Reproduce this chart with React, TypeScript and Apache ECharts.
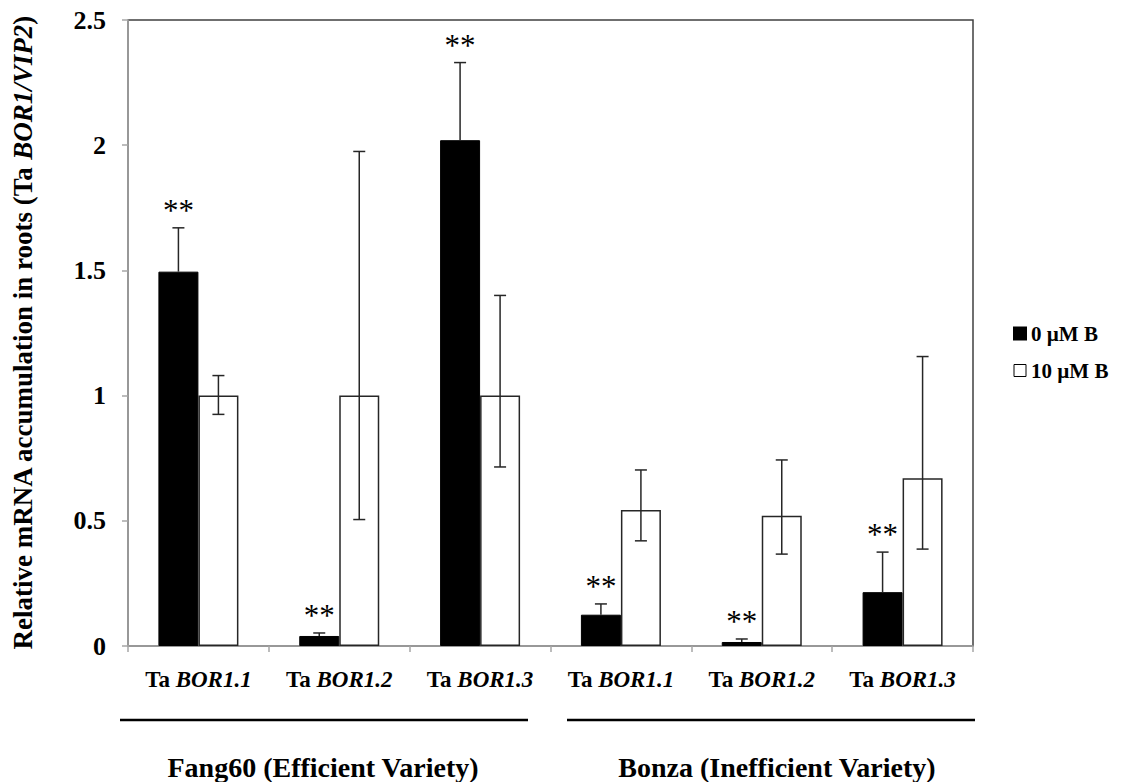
import React, { useEffect, useRef } from 'react';
import * as echarts from 'echarts';

const genes = ['BOR1.1', 'BOR1.2', 'BOR1.3', 'BOR1.1', 'BOR1.2', 'BOR1.3'];
const varieties = ['Fang60 (Efficient Variety)', 'Bonza (Inefficient Variety)'];
const seriesNames = ['0 µM B', '10 µM B'];
const mean0 = [1.495, 0.04, 2.02, 0.125, 0.016, 0.215];
const upper0 = [1.67, 0.052, 2.33, 0.168, 0.028, 0.375];
const mean10 = [1.0, 1.0, 1.0, 0.543, 0.52, 0.67];
const lower10 = [0.925, 0.505, 0.715, 0.42, 0.367, 0.387];
const upper10 = [1.08, 1.975, 1.4, 0.703, 0.743, 1.156];
const marks0 = ['**', '**', '**', '**', '**', '**'];
const yMin = 0;
const yMax = 2.5;
const yInterval = 0.5;

const FONT = '"Liberation Serif", "Times New Roman", serif';
const BAR_W = 40;

export default function App() {
  const ref = useRef<HTMLDivElement>(null);
  useEffect(() => {
    if (!ref.current) return;
    const chart = echarts.init(ref.current, undefined, { renderer: 'svg' });

    const errRender = (offset: number, lowerCap: boolean, withMark: boolean) =>
      (params: any, api: any) => {
        const i = api.value(0);
        const lo = api.value(1);
        const hi = api.value(2);
        const x = api.coord([i, 0])[0] + offset;
        const yLo = api.coord([i, lo])[1];
        const yHi = api.coord([i, hi])[1];
        const st = { stroke: '#262626', lineWidth: 1.5 };
        const children: any[] = [
          { type: 'line', shape: { x1: x, y1: yLo, x2: x, y2: yHi }, style: st },
          { type: 'line', shape: { x1: x - 6, y1: yHi, x2: x + 6, y2: yHi }, style: st },
        ];
        if (lowerCap) {
          children.push({ type: 'line', shape: { x1: x - 6, y1: yLo, x2: x + 6, y2: yLo }, style: st });
        }
        if (withMark) {
          children.push({
            type: 'text',
            style: {
              text: marks0[params.dataIndex],
              x: x,
              y: yHi - 2,
              align: 'center',
              verticalAlign: 'bottom',
              fontFamily: FONT,
              fontSize: 31,
              fill: '#000',
            },
          });
        }
        return { type: 'group', children };
      };

    const option: any = {
      animation: false,
      backgroundColor: '#fff',
      grid: {
        left: 128,
        right: 149,
        top: 20,
        bottom: 136,
        show: true,
        borderColor: '#404040',
        borderWidth: 1.5,
      },
      legend: {
        orient: 'vertical',
        left: 1008,
        top: 318,
        itemWidth: 12,
        itemHeight: 12,
        itemGap: 16,
        icon: 'rect',
        textStyle: { fontFamily: FONT, fontWeight: 'bold', fontSize: 21, color: '#000' },
        data: [
          { name: seriesNames[0], itemStyle: { color: '#000' } },
          { name: seriesNames[1], itemStyle: { color: '#fff', borderColor: '#000', borderWidth: 1 } },
        ],
      },
      xAxis: {
        type: 'category',
        data: genes,
        boundaryGap: true,
        axisLine: { lineStyle: { color: '#a6a6a6', width: 1.5 } },
        axisTick: { show: true, length: 6, lineStyle: { color: '#a6a6a6', width: 1.5 } },
        axisLabel: {
          margin: 22,
          formatter: (v: string) => `{r|Ta }{i|${v}}`,
          rich: {
            r: { fontFamily: FONT, fontWeight: 'bold', fontSize: 23, color: '#000' },
            i: { fontFamily: FONT, fontWeight: 'bold', fontStyle: 'italic', fontSize: 23, color: '#000' },
          },
        },
        splitLine: { show: false },
      },
      yAxis: {
        type: 'value',
        min: yMin,
        max: yMax,
        interval: yInterval,
        name: 'Relative mRNA accumulation in roots (Ta {i|BOR1/VIP2})',
        nameLocation: 'middle',
        nameGap: 92,
        nameTextStyle: {
          fontFamily: FONT,
          fontWeight: 'bold',
          fontSize: 27,
          color: '#000',
          rich: {
            i: { fontFamily: FONT, fontWeight: 'bold', fontStyle: 'italic', fontSize: 27, color: '#000' },
          },
        },
        axisLine: { show: true, lineStyle: { color: '#a6a6a6', width: 1.5 } },
        axisTick: { show: true, length: 6, lineStyle: { color: '#a6a6a6', width: 1.5 } },
        axisLabel: {
          margin: 22,
          fontFamily: FONT,
          fontWeight: 'bold',
          fontSize: 26,
          color: '#000',
        },
        splitLine: { show: false },
      },
      series: [
        {
          name: seriesNames[0],
          type: 'bar',
          data: mean0,
          barWidth: BAR_W,
          barGap: '0%',
          itemStyle: { color: '#000', borderColor: '#000', borderWidth: 1 },
        },
        {
          name: seriesNames[1],
          type: 'bar',
          data: mean10,
          barWidth: BAR_W,
          barGap: '0%',
          itemStyle: { color: '#fff', borderColor: '#262626', borderWidth: 1.5 },
        },
        {
          type: 'custom',
          name: 'err0',
          data: mean0.map((m, i) => [i, m, upper0[i]]),
          encode: { x: 0, y: [1, 2] },
          renderItem: errRender(-BAR_W / 2, false, true),
          z: 5,
        },
        {
          type: 'custom',
          name: 'err10',
          data: mean10.map((m, i) => [i, lower10[i], upper10[i]]),
          encode: { x: 0, y: [1, 2] },
          renderItem: errRender(BAR_W / 2, true, false),
          z: 5,
        },
      ],
      graphic: [
        { type: 'line', shape: { x1: 120, y1: 720, x2: 528, y2: 720 }, style: { stroke: '#000', lineWidth: 2.5 } },
        { type: 'line', shape: { x1: 567, y1: 720, x2: 975, y2: 720 }, style: { stroke: '#000', lineWidth: 2.5 } },
        {
          type: 'text',
          x: 323,
          y: 767,
          style: {
            text: varieties[0],
            align: 'center',
            verticalAlign: 'middle',
            fontFamily: FONT,
            fontWeight: 'bold',
            fontSize: 28,
            fill: '#000',
          },
        },
        {
          type: 'text',
          x: 777,
          y: 767,
          style: {
            text: varieties[1],
            align: 'center',
            verticalAlign: 'middle',
            fontFamily: FONT,
            fontWeight: 'bold',
            fontSize: 28,
            fill: '#000',
          },
        },
      ],
    };
    chart.setOption(option);
    return () => chart.dispose();
  }, []);
  return (
    <div
      ref={ref}
      style={{ position: 'fixed', left: 0, top: 0, width: 1122, height: 782, background: '#fff' }}
    />
  );
}
